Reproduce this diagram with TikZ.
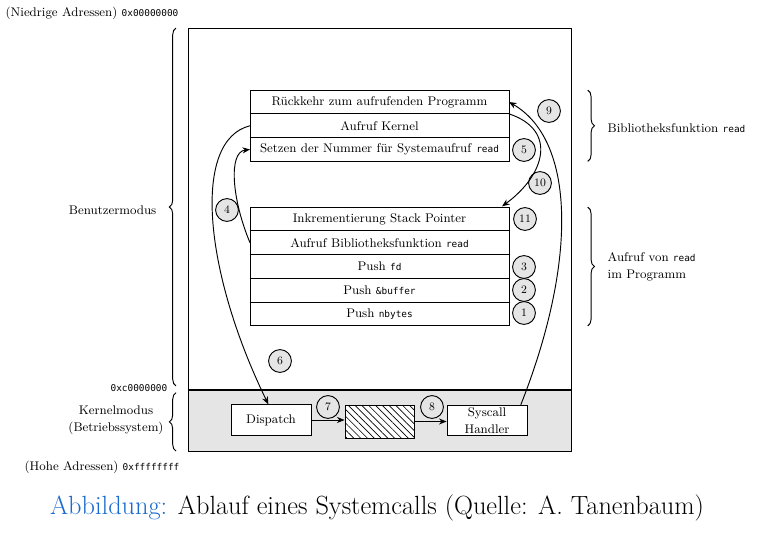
\documentclass[tikz,border=0pt]{standalone}
\usepackage{fontspec}
\setmonofont{DejaVu Sans Mono}[Scale=0.75]
\usepackage{tikz}
\usetikzlibrary{arrows.meta,positioning,patterns.meta,decorations.pathreplacing}
\usepackage{xcolor}
\definecolor{capblue}{RGB}{25,105,205}

\begin{document}
\begin{tikzpicture}[
    x=0.026316cm, y=-0.026316cm,
    every node/.style={font=\fontsize{9.4}{12.5}\selectfont},
    stackbox/.style={draw, line width=0.7pt, outer sep=0pt, inner sep=1pt,
                     minimum width=6.816cm, minimum height=0.625cm},
    kbox/.style={draw, line width=0.7pt, fill=white, inner sep=1pt,
                 minimum width=2.105cm, minimum height=0.8cm, align=center},
    nr/.style={draw, circle, fill=gray!20, line width=0.7pt, inner sep=1.2pt,
               minimum size=0.6cm, font=\fontsize{8.5}{10}\selectfont},
    arrow/.style={-{Stealth[length=2mm,width=1.6mm]}, line width=0.7pt},
    brace/.style={decorate, decoration={brace, amplitude=5pt}, line width=0.7pt}
  ]
    \useasboundingbox (0,0) rectangle (760,533);

    % Speicherbereiche
    \node[draw, line width=0.7pt, outer sep=0pt, minimum width=10.105cm,
          minimum height=9.526cm] (user) at (380,209) {};
    \node[draw, line width=0.7pt, outer sep=0pt, fill=gray!20, minimum width=10.105cm,
          minimum height=1.605cm] (kernel) at (380,420.5) {};

    % Bibliotheksfunktion
    \node[stackbox] (ret) at (379.5,102) {Rückkehr zum aufrufenden Programm};
    \node[stackbox, below=0pt of ret] (kcall) {Aufruf Kernel};
    \node[stackbox, below=0pt of kcall] (setnr) {Setzen der Nummer für Systemaufruf \texttt{read}};

    % Programm
    \node[stackbox] (incsp) at (379.5,219) {Inkrementierung Stack Pointer};
    \node[stackbox, below=0pt of incsp] (libcall) {Aufruf Bibliotheksfunktion \texttt{read}};
    \node[stackbox, below=0pt of libcall] (pushfd) {Push \texttt{fd}};
    \node[stackbox, below=0pt of pushfd] (pushbuf) {Push \texttt{\&buffer}};
    \node[stackbox, below=0pt of pushbuf] (pushnb) {Push \texttt{nbytes}};

    % Kernel
    \node[kbox] (dispatch) at (271,420) {Dispatch};
    \node[draw, line width=0.7pt, fill=white, minimum width=1.816cm, minimum height=0.868cm,
          postaction={pattern={Lines[angle=-45,distance=3.6pt,line width=0.5pt]}}]
          (table) at (379.5,421.5) {};
    \node[kbox] (handler) at (487,420.5) {Syscall\\Handler};

    % Schritte
    \node[nr] (n1) at (524,313) {1};
    \node[nr] (n2) at (524,290) {2};
    \node[nr] (n3) at (524,267) {3};
    \node[nr] (n4) at (227,210) {4};
    \node[nr] (n5) at (524,150) {5};
    \node[nr] (n6) at (280,361) {6};
    \node[nr] (n7) at (328,407) {7};
    \node[nr] (n8) at (432,407) {8};
    \node[nr] (n9) at (549,111) {9};
    \node[nr] (n10) at (540,183) {10};
    \node[nr] (n11) at (525,219) {11};

    % Arrows
    \draw[arrow] (libcall.west) .. controls (232,200) and (228,152) .. (setnr.west);
    \draw[arrow] (kcall.west) .. controls (192,140) and (203,270) .. ([xshift=-2pt]dispatch.north);
    \draw[arrow] (dispatch.east) -- (dispatch.east -| table.west);
    \draw[arrow] (table.east) -- (table.east -| handler.west);
    \draw[arrow] ([xshift=-5pt]handler.north east) .. controls (578,260) and (575,140) .. (ret.east);
    \draw[arrow, shorten >=1pt] (ret.south east) .. controls (558,130) and (545,175) .. ([xshift=-6pt]incsp.north east);

    % Klammern links
    \draw[brace] ([xshift=-9pt,yshift=3pt]user.south west) -- ([xshift=-9pt]user.north west);
    \draw[brace] ([xshift=-9pt]kernel.south west) -- ([xshift=-9pt,yshift=-2pt]kernel.north west);
    \node[anchor=west] (lowaddr) at (1,13) {(Niedrige Adressen) \texttt{0x00000000}};
    \node[anchor=east] (umode) at (161,210) {Benutzermodus};
    \node[anchor=east] (kaddr) at (172,388) {\texttt{0xc0000000}};
    \node[align=center] (kmode) at (116,420) {Kernelmodus\\(Betriebssystem)};
    \node[anchor=west] (highaddr) at (20,467) {(Hohe Adressen) \texttt{0xffffffff}};

    % Klammern rechts
    \draw[brace] ([xshift=59pt]ret.north east) -- ([xshift=59pt]setnr.south east);
    \draw[brace] ([xshift=59pt]incsp.north east) -- ([xshift=59pt]pushnb.south east);
    \node[anchor=west] (libfn) at (603,128) {Bibliotheksfunktion \texttt{read}};
    \node[anchor=west, align=left] (progcall) at (603,267) {Aufruf von \texttt{read}\\im Programm};

    % Caption
    \node[font=\fontsize{19.7}{23}\selectfont] (caption) at (377,508)
      {\textcolor{capblue}{Abbildung:} Ablauf eines Systemcalls (Quelle: A. Tanenbaum)};
  \end{tikzpicture}
\end{document}
